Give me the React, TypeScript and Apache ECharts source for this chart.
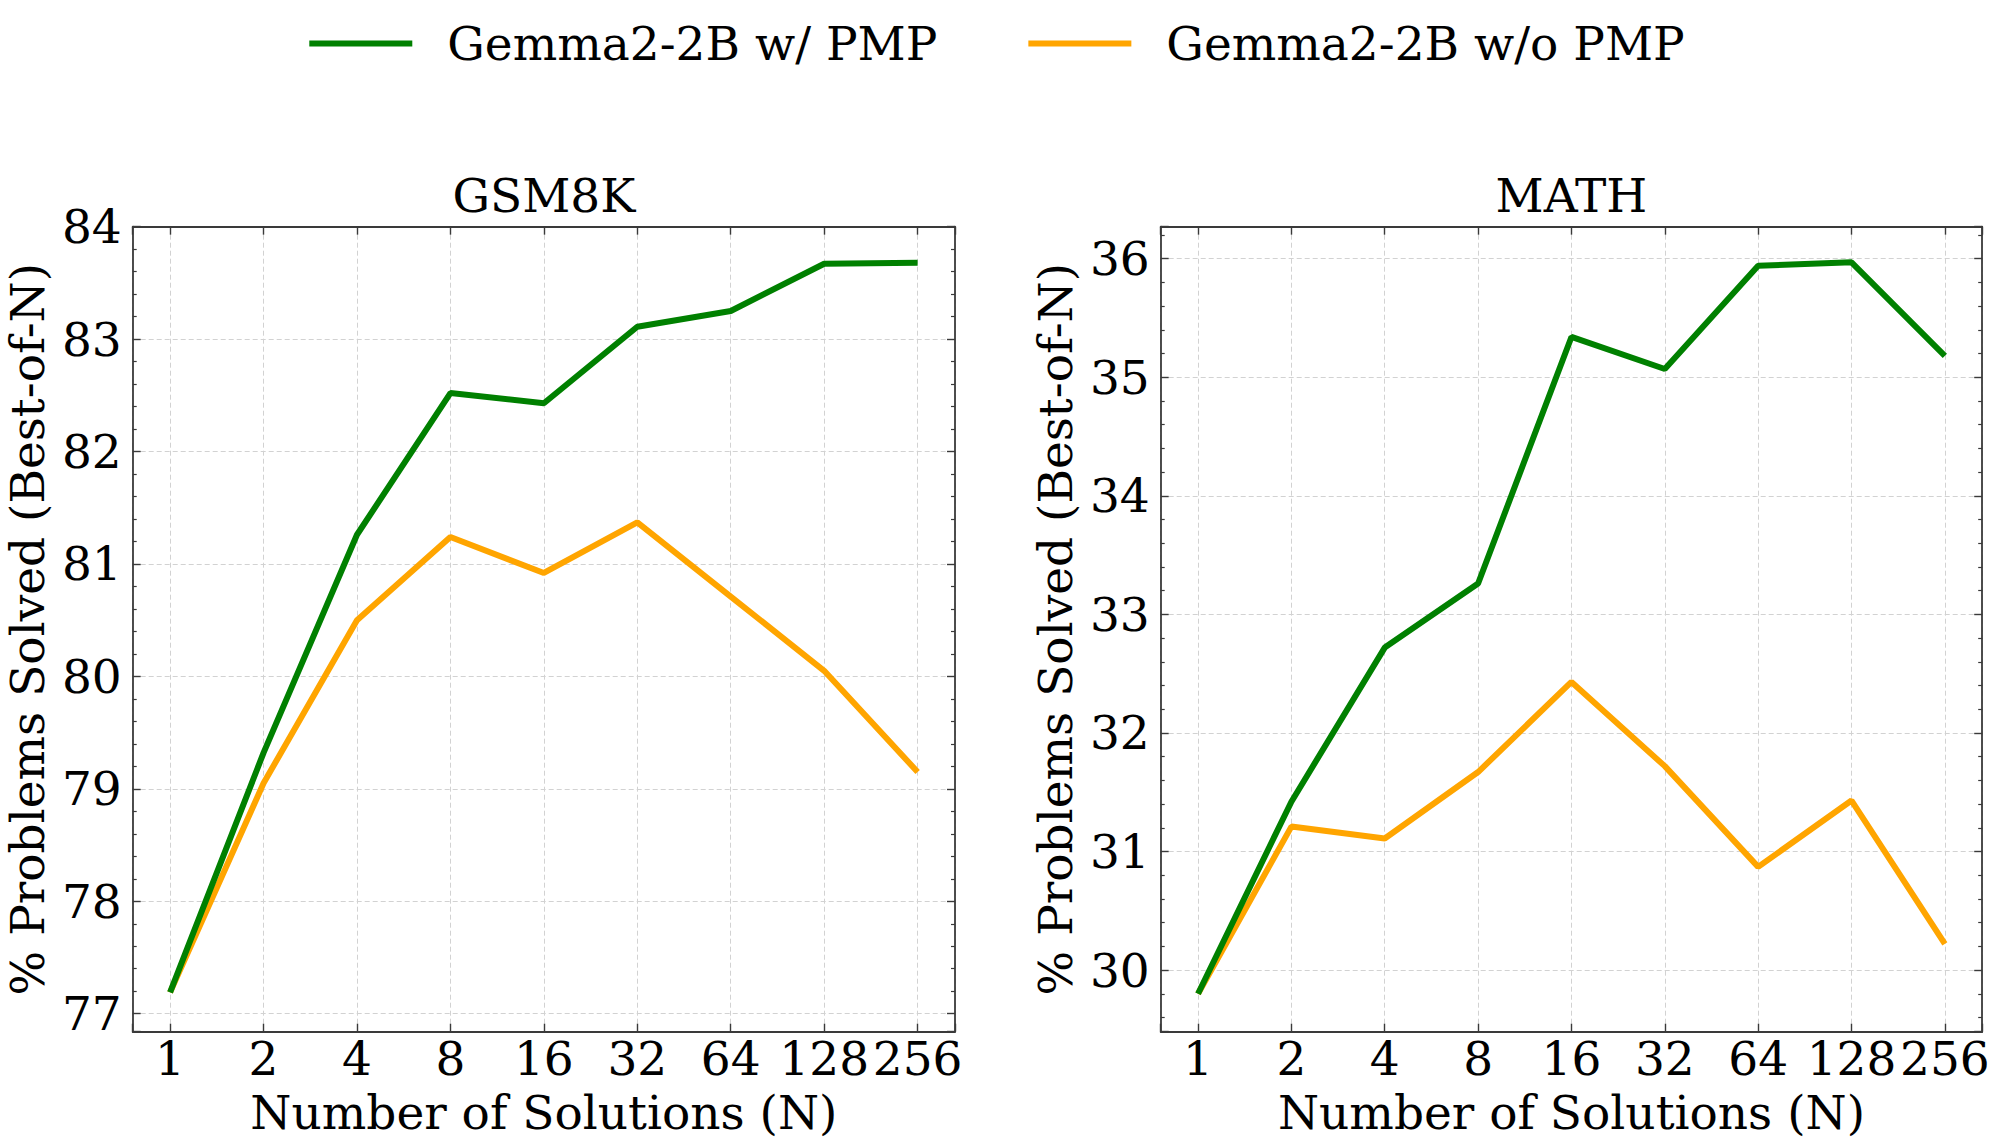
import React, { useEffect, useRef } from "react";
import * as echarts from "echarts";

// ---- data ----
const nValues = [1, 2, 4, 8, 16, 32, 64, 128, 256];
const seriesNames = ["Gemma2-2B w/ PMP", "Gemma2-2B w/o PMP"];
const seriesColors = ["#008000", "#FFA500"];
const panelTitles = ["GSM8K", "MATH"];
const gsmWith = [77.19, 79.32, 81.26, 82.52, 82.43, 83.11, 83.25, 83.67, 83.68];
const gsmWithout = [77.19, 79.05, 80.5, 81.24, 80.92, 81.37, 80.71, 80.05, 79.15];
const mathWith = [29.8, 31.42, 32.72, 33.26, 35.34, 35.07, 35.94, 35.97, 35.18];
const mathWithout = [29.8, 31.21, 31.11, 31.67, 32.43, 31.72, 30.87, 31.43, 30.22];
const yRanges = [
  [76.84, 84.0],
  [29.48, 36.27],
];
const xAxisName = "Number of Solutions (N)";
const yAxisName = "% Problems Solved (Best-of-N)";

const FONT = '"DejaVu Serif", serif';
const FS = 47;
const FRAME = "#3a3a3a";
const GRIDC = "#d2d2d2";

const isInt = (v: number) => Math.abs(v - Math.round(v)) < 1e-6;

export default function App() {
  const ref = useRef<HTMLDivElement>(null);
  useEffect(() => {
    if (!ref.current) return;
    const chart = echarts.init(ref.current, null, { renderer: "svg" });
    const grids = [
      { left: 132.7, top: 226.7, width: 822.3, height: 805 },
      { left: 1160.7, top: 226.7, width: 821.5, height: 805 },
    ];
    const xAxes: any[] = [];
    const yAxes: any[] = [];
    grids.forEach((_, g) => {
      const common = {
        type: "value",
        gridIndex: g,
        min: -0.4,
        max: 8.4,
        minInterval: 1,
        maxInterval: 1,
        axisLine: { show: true, onZero: false, lineStyle: { color: FRAME, width: 1.8 } },
        axisTick: { show: true, inside: true, length: 8, lineStyle: { color: FRAME, width: 1.4 } },
      };
      xAxes.push({
        ...common,
        position: "bottom",
        axisLabel: {
          show: true,
          margin: 3,
          fontFamily: FONT,
          fontSize: FS,
          color: "#000",
          formatter: (v: number) => (isInt(v) ? String(Math.round(Math.pow(2, v))) : ""),
        },
        splitLine: { show: true, lineStyle: { color: GRIDC, type: [5, 3], width: 1 } },
        name: xAxisName,
        nameLocation: "middle",
        nameGap: 57,
        nameTextStyle: { fontFamily: FONT, fontSize: FS, color: "#000" },
      });
      xAxes.push({
        ...common,
        position: "top",
        axisLabel: { show: false },
        splitLine: { show: false },
      });
      const [ymin, ymax] = yRanges[g];
      const ycommon = {
        type: "value",
        gridIndex: g,
        min: ymin,
        max: ymax,
        minInterval: 1,
        maxInterval: 1,
        axisLine: { show: true, onZero: false, lineStyle: { color: FRAME, width: 1.8 } },
        axisTick: { show: true, inside: true, length: 8, lineStyle: { color: FRAME, width: 1.4 } },
        minorTick: { show: true, splitNumber: 5, length: 4, lineStyle: { color: FRAME, width: 1.2 } },
      };
      yAxes.push({
        ...ycommon,
        position: "left",
        axisLabel: {
          show: true,
          margin: 11,
          fontFamily: FONT,
          fontSize: FS,
          color: "#000",
          formatter: (v: number) => (isInt(v) ? String(Math.round(v)) : ""),
        },
        splitLine: { show: true, lineStyle: { color: GRIDC, type: [5, 3], width: 1 } },
        name: yAxisName,
        nameLocation: "middle",
        nameGap: 82,
        nameTextStyle: { fontFamily: FONT, fontSize: FS, color: "#000" },
      });
      yAxes.push({
        ...ycommon,
        position: "right",
        axisLabel: { show: false },
        splitLine: { show: false },
      });
    });

    const panelData = [
      [gsmWith, gsmWithout],
      [mathWith, mathWithout],
    ];
    const series: any[] = [];
    panelData.forEach((pair, g) => {
      pair.forEach((vals, k) => {
        series.push({
          type: "line",
          name: seriesNames[k],
          xAxisIndex: g * 2,
          yAxisIndex: g * 2,
          data: nValues.map((n, i) => [Math.log2(n), vals[i]]),
          showSymbol: false,
          symbol: "none",
          color: seriesColors[k],
          lineStyle: { width: 6, color: seriesColors[k] },
          z: k === 0 ? 4 : 3,
        });
      });
    });

    chart.setOption({
      animation: false,
      backgroundColor: "#fff",
      title: panelTitles.map((t, g) => ({
        text: t,
        left: grids[g].left + grids[g].width / 2,
        top: 172,
        textAlign: "center",
        padding: 0,
        textStyle: { fontFamily: FONT, fontSize: FS, fontWeight: "normal", color: "#000" },
      })),
      legend: {
        data: seriesNames,
        left: "center",
        top: 20,
        icon: "rect",
        itemWidth: 103,
        itemHeight: 6,
        itemGap: 91,
        padding: 0,
        textStyle: { fontFamily: FONT, fontSize: FS, color: "#000", padding: [0, 0, 0, 30] },
      },
      grid: grids,
      xAxis: xAxes,
      yAxis: yAxes,
      series,
    });
    return () => chart.dispose();
  }, []);
  return (
    <div
      ref={ref}
      style={{ position: "fixed", left: 0, top: 0, width: 1994, height: 1146, background: "#fff" }}
    />
  );
}
